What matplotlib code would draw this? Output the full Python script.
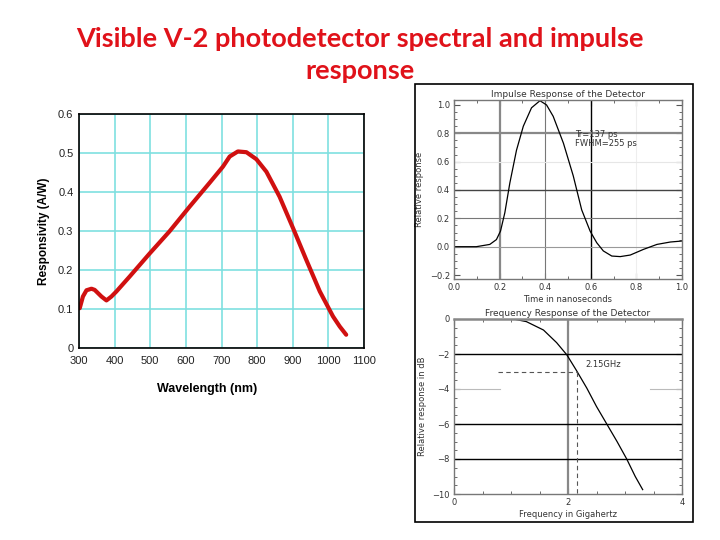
import matplotlib
matplotlib.use("Agg")
import matplotlib.pyplot as plt
from matplotlib.patches import Rectangle
from matplotlib.ticker import MultipleLocator

# ---------------- data ----------------
title_text = "Visible V-2 photodetector spectral and impulse\nresponse"

wavelength_nm = [302, 311, 321, 335, 344, 363, 377, 391, 405, 442, 498, 554, 611,
                 667, 704, 723, 746, 770, 798, 826, 863, 901, 938, 976, 1013, 1032, 1050]
responsivity = [0.102, 0.132, 0.148, 0.152, 0.149, 0.132, 0.122, 0.132, 0.145, 0.183,
                0.242, 0.299, 0.363, 0.424, 0.465, 0.491, 0.504, 0.502, 0.484, 0.452,
                0.388, 0.307, 0.226, 0.145, 0.081, 0.055, 0.034]
wl_ticks = [300, 400, 500, 600, 700, 800, 900, 1000, 1100]
resp_ticks = [0, 0.1, 0.2, 0.3, 0.4, 0.5, 0.6]
resp_ticklabels = ["0", "0.1", "0.2", "0.3", "0.4", "0.5", "0.6"]

time_ns = [0.0, 0.05, 0.098, 0.157, 0.186, 0.204, 0.223, 0.245, 0.274, 0.304, 0.34,
           0.377, 0.406, 0.435, 0.48, 0.523, 0.56, 0.597, 0.626, 0.655, 0.692, 0.729,
           0.773, 0.831, 0.89, 0.949, 1.0]
impulse = [0.0, 0.0, 0.0, 0.016, 0.05, 0.11, 0.24, 0.45, 0.68, 0.85, 0.98, 1.03, 1.0,
           0.92, 0.73, 0.50, 0.26, 0.11, 0.028, -0.03, -0.066, -0.07, -0.059, -0.019,
           0.016, 0.033, 0.04]
imp_xticks = [0.0, 0.2, 0.4, 0.6, 0.8, 1.0]
imp_yticks = [-0.2, 0.0, 0.2, 0.4, 0.6, 0.8, 1.0]
imp_note = "Tr=137 ps\nFWHM=255 ps"

freq_ghz = [0.0, 0.5, 1.04, 1.27, 1.57, 1.80, 1.98, 2.15, 2.33, 2.50, 2.68, 2.86,
            3.03, 3.18, 3.31]
freq_db = [0.0, 0.0, 0.0, -0.15, -0.63, -1.35, -2.05, -2.95, -3.95, -5.0, -6.0,
           -7.0, -8.0, -9.0, -9.75]
freq_xticks = [0, 2, 4]
freq_yticks = [0, -2, -4, -6, -8, -10]
f3db = 2.15
level3db = -3.0
f3db_label = "2.15GHz"

# ---------------- figure ----------------
fig = plt.figure(figsize=(7.2, 5.4), dpi=100)
fig.patch.set_facecolor("white")

fig.text(0.5, 1 - 55 / 540, title_text, ha="center", va="center",
         fontsize=19.5, fontweight="bold", color="#E0121A", family="Lato",
         linespacing=1.42)

# ---- left: spectral responsivity ----
axL = fig.add_axes([79 / 720, 1 - 348 / 540, 285 / 720, 234 / 540])
axL.plot(wavelength_nm, responsivity, color="#D01010", lw=3, solid_capstyle="round")
axL.set_xlim(300, 1100)
axL.set_ylim(0, 0.6)
axL.set_xticks(wl_ticks)
axL.set_yticks(resp_ticks)
axL.set_yticklabels(resp_ticklabels)
axL.grid(True, color="#7FE0E0", lw=1.2)
axL.set_axisbelow(True)
axL.tick_params(length=0, labelsize=8, colors="#222222")
axL.tick_params(axis="y", pad=4)
axL.tick_params(axis="x", pad=6)
for lab in axL.get_xticklabels() + axL.get_yticklabels():
    lab.set_family("Liberation Sans")
for s in axL.spines.values():
    s.set_color("black")
    s.set_linewidth(1.2)
axL.set_xlabel("Wavelength (nm)", fontsize=9, fontweight="bold", family="Liberation Sans")
axL.xaxis.set_label_coords(0.45, -0.15)
axL.set_ylabel("Responsivity (A/W)", fontsize=8.5, fontweight="bold", family="Liberation Sans")
axL.yaxis.set_label_coords(-0.10, 0.5)

# ---- right frame ----
fig.add_artist(Rectangle((415 / 720, 1 - 522 / 540), 278 / 720, 438 / 540,
                         transform=fig.transFigure, fill=False, ec="black", lw=1.2))

small = dict(fontsize=6, color="#333333", family="DejaVu Sans")

def style_small(ax):
    for s in ax.spines.values():
        s.set_color("#777777")
        s.set_linewidth(1.0)
    ax.tick_params(which="both", direction="in", top=True, right=True,
                   colors="#555555", labelcolor="#333333", labelsize=6, pad=3)
    ax.tick_params(which="major", length=4)
    ax.tick_params(which="minor", length=2)

# ---- impulse response ----
axI = fig.add_axes([454 / 720, 1 - 279 / 540, 228 / 720, 179 / 540])
axI.set_xlim(0, 1.0)
axI.set_ylim(-0.228, 1.035)
axI.axvline(0.2, color="#888888", lw=1.6)
axI.axvline(0.4, color="#777777", lw=0.8)
axI.axvline(0.6, color="black", lw=1.0)
axI.axvline(0.8, color="#eeeeee", lw=0.8)
axI.axhline(0.8, color="#888888", lw=1.6)
axI.axhline(0.6, color="#e6e6e6", lw=0.8)
axI.axhline(0.4, color="#444444", lw=1.0)
axI.axhline(0.2, color="#777777", lw=0.8)
axI.axhline(0.0, color="#999999", lw=0.8)
axI.plot(time_ns, impulse, color="black", lw=0.9)
axI.set_xticks(imp_xticks)
axI.set_xticklabels([f"{v:.1f}" for v in imp_xticks])
axI.set_yticks(imp_yticks)
axI.set_yticklabels([f"{v:.1f}".replace("-", "\u2212") for v in imp_yticks])
axI.xaxis.set_minor_locator(MultipleLocator(0.1))
axI.yaxis.set_minor_locator(MultipleLocator(0.05))
style_small(axI)
axI.set_title("Impulse Response of the Detector", pad=2, fontsize=6.5,
              color="#333333", family="DejaVu Sans")
axI.set_xlabel("Time in nanoseconds", labelpad=2, **small)
axI.set_ylabel("Relative response", labelpad=4, **small)
axI.text(0.53, 0.76, imp_note, va="center", ha="left", linespacing=0.9, **small)

# ---- frequency response ----
axF = fig.add_axes([454 / 720, 1 - 494 / 540, 228 / 720, 175 / 540])
axF.set_xlim(0, 4)
axF.set_ylim(-10, 0)
axF.axvline(2, color="#888888", lw=1.6)
axF.axhline(-2, color="black", lw=1.0)
axF.axhline(-6, color="black", lw=1.0)
axF.axhline(-8, color="black", lw=1.0)
axF.axhline(-4, xmin=0, xmax=0.2, color="#bbbbbb", lw=0.8)
axF.axhline(-4, xmin=0.86, xmax=1, color="#bbbbbb", lw=0.8)
axF.plot(freq_ghz, freq_db, color="black", lw=0.9)
axF.plot([0.78, f3db], [level3db, level3db], color="#555555", lw=0.8, ls=(0, (4, 3)))
axF.plot([f3db, f3db], [level3db, -10], color="#555555", lw=0.8, ls=(0, (4, 3)))
axF.text(f3db + 0.15, level3db + 0.25, f3db_label, **small)
axF.set_xticks(freq_xticks)
axF.set_yticks(freq_yticks)
axF.set_yticklabels([str(v).replace("-", "\u2212") for v in freq_yticks])
axF.xaxis.set_minor_locator(MultipleLocator(0.5))
axF.yaxis.set_minor_locator(MultipleLocator(0.5))
style_small(axF)
axF.spines["top"].set_linewidth(1.8)
axF.spines["top"].set_color("#888888")
axF.set_title("Frequency Response of the Detector", pad=2, fontsize=6.5,
              color="#333333", family="DejaVu Sans")
axF.set_xlabel("Frequency in Gigahertz", labelpad=2, **small)
axF.set_ylabel("Relative response in dB", labelpad=4, **small)

fig.savefig("out.png", dpi=100)
